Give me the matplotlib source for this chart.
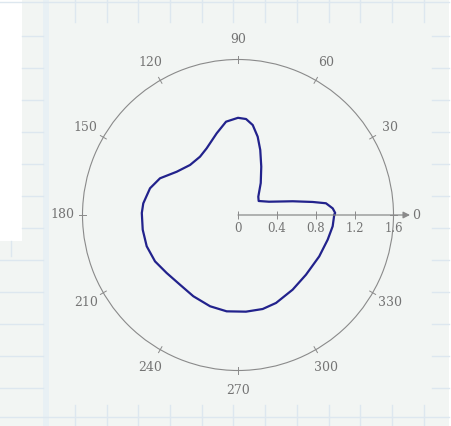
import numpy as np
import matplotlib
matplotlib.use('Agg')
import matplotlib.pyplot as plt
from matplotlib.patches import Rectangle

# curve: angle (deg) and radius
theta_deg = [0, 1.2, 4.0, 7.6, 9.9, 14.1, 23.2, 34.1, 42, 54.6, 64.3, 71.1, 75.9, 80.7,
             85.2, 90, 97.3, 104.6, 115.2, 123.1, 133.8, 144.8, 154.8, 163.1, 173,
             178.8, 188.8, 198.9, 209.2, 219.1, 230.2, 241.2, 253, 263.3, 274.7, 284.7,
             293.4, 306.2, 318.7, 333, 344.6, 353.2, 360]
r_vals = [0.99, 1.0, 0.977, 0.913, 0.78, 0.58, 0.347, 0.257, 0.281, 0.404, 0.552, 0.707,
          0.831, 0.938, 0.991, 1.0, 0.968, 0.869, 0.758, 0.716, 0.713, 0.772, 0.887,
          0.946, 0.982, 0.99, 0.992, 0.993, 0.978, 0.946, 0.933, 0.954, 0.982, 0.998,
          0.998, 1.0, 0.986, 0.952, 0.931, 0.938, 0.957, 0.981, 0.99]

angle_ticks = [0, 30, 60, 90, 120, 150, 180, 210, 240, 270, 300, 330]
angle_labels = ["0", "30", "60", "90", "120", "150", "180", "210", "240", "270", "300", "330"]
r_ticks = [0, 0.4, 0.8, 1.2, 1.6]
r_labels = ["0", "0.4", "0.8", "1.2", "1.6"]

W, H = 452, 426
bgcol = '#f2f5f3'
gridcol = '#dde7ef'
txtcol = '#747474'
axcol = '#8a8a8a'
fnt = 'DejaVu Serif'

fig = plt.figure(figsize=(W / 100, H / 100), dpi=100)
fig.patch.set_facecolor(bgcol)

# worksheet background (paper look)
bg = fig.add_axes([0, 0, 1, 1])
bg.set_xlim(0, W)
bg.set_ylim(H, 0)
bg.axis('off')
bg.add_patch(Rectangle((0, 0), 22, 241, color='white', lw=0))
bg.add_patch(Rectangle((449, 0), 3, H, color='white', lw=0))
bg.add_patch(Rectangle((43, 0), 6, H, color='#e8f0f4', lw=0))
bg.plot([0, 449], [2, 2], color=gridcol, lw=1)
bg.plot([0, 449], [417, 417], color=gridcol, lw=1)
for k in range(12):
    x = 75 + 31.7 * k
    bg.plot([x, x], [0, 22], color=gridcol, lw=1)
    bg.plot([x, x], [405, H], color=gridcol, lw=1)
for k in range(12):
    y = 36 + 32 * k
    if y > 241:
        bg.plot([0, 43], [y, y], color=gridcol, lw=1)
    else:
        bg.plot([22, 43], [y, y], color=gridcol, lw=1)
    if y < 410:
        bg.plot([432, 449], [y, y], color=gridcol, lw=1)
bg.plot([11, 11], [241, 256], color=gridcol, lw=1)

# polar plot, centre (238,215) px, radius 155.5 px
cx, cy, R = 238, 215, 155.5
ax = fig.add_axes([(cx - R) / W, (H - cy - R) / H, 2 * R / W, 2 * R / H], projection='polar')
ax.set_facecolor('none')
ax.plot(np.radians(theta_deg), r_vals, color='#22228c', lw=1.6, zorder=3)
ax.set_ylim(0, 1.6)
ax.grid(False)
ax.set_yticks([])
ax.set_xticks([])
ax.spines['polar'].set_color(axcol)
ax.spines['polar'].set_linewidth(0.8)

# small tick marks across the circle
for a in angle_ticks:
    ax.plot([np.radians(a)] * 2, [1.565, 1.635], color=axcol, lw=0.7, clip_on=False)

for a, lab in zip(angle_ticks, angle_labels):
    ha = 'center'
    rr = 1.81
    if a == 0:
        ha = 'left'
        rr = 1.79
    ax.text(np.radians(a), rr, lab, ha=ha, va='center', fontsize=9,
            family=fnt, color=txtcol, clip_on=False)

# radial axis with arrow
ax.annotate('', xy=(0, 1.77), xytext=(0, 0),
            arrowprops=dict(arrowstyle='-|>', color=axcol, lw=0.9, mutation_scale=10,
                            shrinkA=0, shrinkB=0),
            annotation_clip=False)
ax.plot(np.zeros(len(r_ticks)), r_ticks, linestyle='none', marker='|', ms=6,
        mew=0.7, color=axcol, clip_on=False)
for r, lab in zip(r_ticks, r_labels):
    ax.annotate(lab, (0, r), xytext=(0, -5), textcoords='offset points',
                ha='center', va='top', fontsize=8.5, family=fnt, color=txtcol,
                annotation_clip=False)

fig.savefig('out.png', dpi=100, facecolor=fig.get_facecolor())
